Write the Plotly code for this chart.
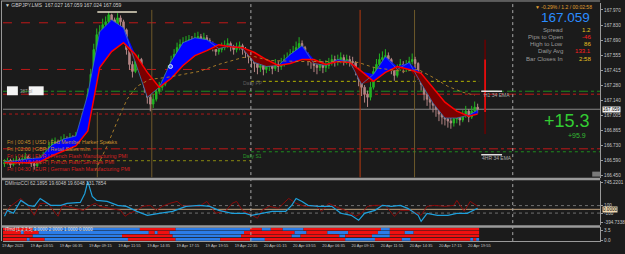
import numpy as np
import plotly.graph_objects as go

# ---------------- data ----------------
first_open = 166.560
close = [166.569, 166.587, 166.550, 166.578, 166.596, 166.569, 166.605, 166.623, 166.587, 166.560,
         166.541, 166.569, 166.605, 166.632, 166.651, 166.714, 166.742, 166.760, 166.732, 166.769,
         166.787, 166.769, 166.796, 166.778, 166.805, 166.823, 166.851, 166.969, 167.197, 167.379,
         167.606, 167.743, 167.770, 167.834, 167.861, 167.925, 167.879, 167.834, 167.897, 167.861,
         167.788, 167.606, 167.470, 167.406, 167.497, 167.515, 167.379, 167.260, 167.169, 167.106,
         167.151, 167.224, 167.260, 167.288, 167.333, 167.406, 167.497, 167.561, 167.624, 167.652,
         167.670, 167.679, 167.697, 167.679, 167.715, 167.724, 167.697, 167.715, 167.688, 167.661,
         167.633, 167.588, 167.606, 167.624, 167.642, 167.661, 167.633, 167.606, 167.624, 167.642,
         167.606, 167.579, 167.542, 167.515, 167.479, 167.442, 167.460, 167.424, 167.451, 167.460,
         167.433, 167.470, 167.451, 167.479, 167.515, 167.533, 167.561, 167.588, 167.624, 167.661,
         167.624, 167.561, 167.515, 167.488, 167.460, 167.442, 167.470, 167.442, 167.460, 167.488,
         167.515, 167.497, 167.515, 167.533, 167.506, 167.515, 167.497, 167.488, 167.424, 167.333,
         167.260, 167.197, 167.169, 167.260, 167.406, 167.470, 167.515, 167.533, 167.551, 167.515,
         167.424, 167.369, 167.424, 167.470, 167.442, 167.460, 167.497, 167.515, 167.479, 167.379,
         167.288, 167.197, 167.151, 167.124, 167.096, 167.060, 167.015, 166.987, 166.969, 166.951,
         166.933, 166.969, 166.987, 166.960, 167.005, 167.042, 166.987, 167.042, 167.078, 167.059]
high = [166.600, 166.615, 166.605, 166.610, 166.630, 166.612, 166.640, 166.660, 166.640, 166.600,
        166.580, 166.600, 166.640, 166.670, 166.700, 166.760, 166.790, 166.800, 166.780, 166.810,
        166.830, 166.810, 166.840, 166.820, 166.850, 166.870, 166.900, 167.010, 167.250, 167.430,
        167.660, 167.800, 167.830, 167.890, 167.910, 167.950, 167.935, 167.900, 167.940, 167.920,
        167.880, 167.800, 167.620, 167.500, 167.540, 167.560, 167.530, 167.400, 167.280, 167.190,
        167.200, 167.270, 167.310, 167.330, 167.380, 167.460, 167.550, 167.610, 167.670, 167.700,
        167.720, 167.730, 167.740, 167.730, 167.760, 167.770, 167.750, 167.760, 167.740, 167.710,
        167.680, 167.650, 167.650, 167.670, 167.690, 167.710, 167.680, 167.650, 167.670, 167.680,
        167.660, 167.630, 167.600, 167.570, 167.540, 167.500, 167.510, 167.480, 167.500, 167.510,
        167.490, 167.520, 167.500, 167.530, 167.560, 167.580, 167.610, 167.640, 167.680, 167.720,
        167.690, 167.640, 167.580, 167.540, 167.510, 167.490, 167.520, 167.500, 167.510, 167.530,
        167.560, 167.550, 167.560, 167.580, 167.560, 167.560, 167.550, 167.540, 167.500, 167.440,
        167.350, 167.280, 167.230, 167.310, 167.450, 167.520, 167.570, 167.590, 167.610, 167.580,
        167.530, 167.440, 167.470, 167.520, 167.500, 167.510, 167.540, 167.570, 167.540, 167.490,
        167.400, 167.310, 167.220, 167.190, 167.160, 167.130, 167.090, 167.050, 167.030, 167.010,
        166.990, 167.020, 167.040, 167.020, 167.050, 167.090, 167.060, 167.090, 167.130, 167.110]
low = [166.530, 166.552, 166.520, 166.535, 166.560, 166.545, 166.555, 166.590, 166.560, 166.530,
       166.505, 166.525, 166.555, 166.590, 166.615, 166.640, 166.700, 166.720, 166.700, 166.715,
       166.740, 166.730, 166.750, 166.740, 166.760, 166.780, 166.800, 166.830, 166.950, 167.180,
       167.350, 167.580, 167.700, 167.740, 167.790, 167.830, 167.830, 167.790, 167.820, 167.810,
       167.740, 167.560, 167.420, 167.350, 167.390, 167.460, 167.340, 167.210, 167.110, 167.040,
       167.070, 167.130, 167.200, 167.230, 167.270, 167.320, 167.390, 167.480, 167.550, 167.600,
       167.620, 167.630, 167.650, 167.640, 167.660, 167.690, 167.660, 167.670, 167.650, 167.620,
       167.590, 167.550, 167.560, 167.580, 167.600, 167.620, 167.590, 167.560, 167.580, 167.600,
       167.560, 167.530, 167.480, 167.440, 167.400, 167.380, 167.400, 167.370, 167.390, 167.410,
       167.380, 167.410, 167.400, 167.420, 167.450, 167.480, 167.510, 167.540, 167.570, 167.600,
       167.580, 167.510, 167.460, 167.430, 167.400, 167.380, 167.410, 167.390, 167.400, 167.430,
       167.460, 167.450, 167.460, 167.480, 167.460, 167.470, 167.450, 167.440, 167.370, 167.270,
       167.180, 167.120, 167.080, 167.140, 167.240, 167.390, 167.450, 167.480, 167.500, 167.460,
       167.380, 167.320, 167.350, 167.410, 167.390, 167.400, 167.440, 167.470, 167.430, 167.330,
       167.230, 167.140, 167.090, 167.060, 167.030, 166.990, 166.950, 166.920, 166.910, 166.890,
       166.880, 166.900, 166.930, 166.910, 166.940, 166.980, 166.940, 166.970, 167.010, 167.020]

ma_bars = [0, 4, 8, 12, 16, 20, 24, 28, 32, 36, 40, 44, 48, 52, 56, 60, 64, 68, 72, 76,
           80, 84, 88, 92, 96, 100, 104, 108, 112, 116, 120, 124, 128, 132, 136, 140, 144, 148, 152, 156, 159]
red_ema = [166.569, 166.569, 166.569, 166.578, 166.632, 166.678, 166.723, 166.860, 167.442, 167.588,
           167.670, 167.561, 167.397, 167.260, 167.342, 167.460, 167.551, 167.597, 167.651, 167.633,
           167.624, 167.579, 167.515, 167.460, 167.479, 167.515, 167.515, 167.470, 167.497, 167.488,
           167.406, 167.315, 167.397, 167.451, 167.424, 167.388, 167.260, 167.124, 167.042, 166.996, 167.015]
fast_ema = [166.578, 166.587, 166.605, 166.614, 166.732, 166.787, 166.814, 167.197, 167.770, 167.879,
            167.806, 167.497, 167.169, 167.260, 167.497, 167.670, 167.715, 167.697, 167.615, 167.642,
            167.615, 167.488, 167.451, 167.460, 167.561, 167.642, 167.479, 167.460, 167.515, 167.497,
            167.288, 167.379, 167.542, 167.424, 167.488, 167.297, 167.115, 166.978, 166.978, 167.005, 167.051]

slow_bars = [30.5, 34.5, 37.8, 41.2, 44.5, 48.8, 54.5, 65.5, 72, 80, 84, 89, 99, 112, 119, 124,
             129, 134, 139, 144, 149, 154, 158]
slow_ema = [166.496, 166.723, 166.942, 167.151, 167.269, 167.333, 167.351, 167.406, 167.470, 167.533,
            167.542, 167.506, 167.497, 167.497, 167.488, 167.442, 167.424, 167.406, 167.424, 167.351,
            167.269, 167.215, 167.187]

cci_bars = [0, 1, 3, 5.5, 8, 10, 12, 15.5, 19, 21, 25.5, 27, 28, 29.5, 31, 34.5, 38, 41, 44.5, 48,
            52, 56.5, 61, 65.5, 69, 72, 76.5, 81, 83, 86.5, 90, 94.5, 96.5, 98, 100, 102, 105.5, 110, 113, 116.5,
            119, 121, 124.5, 127, 130, 133, 135.5, 139, 140, 142, 145.5, 149, 152, 155.5, 159]
cci_main = [-185, -27, -106, 238, 106, 80, 291, 106, 106, 159, 185, 424, 745, 344, 238, 212, 106, 80, -53, -159,
            -106, -53, 80, 106, 80, -27, -106, -106, -159, -106, -53, -53, 106, 291, 212, 106, 80, 80, -106, -159,
            -292, -106, -27, 106, 80, 106, 27, -159, -318, -106, -159, -159, -106, -106, 27]
sig_bars = [0, 2, 5.5, 8, 10, 12, 14.5, 16.5, 18, 19.5, 21, 24.5, 26.5, 29, 30.5, 32, 35.5, 39, 40.5, 42,
            44.5, 46.5, 49, 51, 53, 55.5, 58, 60, 62, 65.5, 68, 71, 74.5, 76.5, 78, 80, 82, 85, 86.5, 89,
            92, 95.5, 98, 101, 104.5, 106.5, 109, 111, 114.5, 118, 120, 122, 124.5, 128, 131, 133, 136.5, 140, 142, 144.5,
            148, 151, 152, 154.5, 156.5, 159]
cci_sig = [-106, 80, 291, 80, -159, 159, 159, -27, -185, 106, 80, 27, -27, 106, 159, 80, 27, -27, -185, -106,
           -27, 80, 106, -27, 80, 159, 212, 80, 106, 80, 212, -106, -27, 159, 212, -27, -106, -238, -27, 80,
           27, 291, 159, 80, 106, -53, 159, 80, -27, -185, -106, 80, 106, 106, -185, -27, -27, -159, 80, 106,
           80, 106, 238, -53, 212, 80]

trend_len = [[10, 36, 12, 25, 4, 3, 4, 7, 26, 3, 30],
             [6, 1, 5, 37, 2, 1, 4, 25, 17, 4, 7, 7, 10, 4, 5, 3, 22],
             [10, 30, 17, 23, 17, 3, 13, 2, 9, 6, 30],
             [8, 1, 5, 28, 16, 15, 10, 5, 27, 10, 9, 3, 20, 1, 1, 1]]
trend_up = [[0, 1, 0, 1, 0, 1, 0, 1, 0, 1, 0],
            [0, 1, 0, 1, 0, 1, 0, 1, 0, 1, 0, 1, 0, 1, 0, 1, 0],
            [0, 1, 0, 1, 0, 1, 0, 1, 0, 1, 0],
            [0, 1, 0, 1, 0, 1, 0, 1, 0, 1, 0, 1, 0, 1, 0, 1]]

time_ticks = [2.8, 12.6, 22.4, 32.2, 42.0, 51.8, 61.6, 71.4, 81.2, 91.0, 100.8, 110.6, 120.4, 130.2, 140.0, 149.8, 159.6]
time_labels = ["19 Apr 2023", "19 Apr 03:55", "19 Apr 06:35", "19 Apr 09:15", "19 Apr 11:55", "19 Apr 14:35",
               "19 Apr 17:15", "19 Apr 19:55", "19 Apr 22:35", "20 Apr 01:15", "20 Apr 03:55", "20 Apr 06:35",
               "20 Apr 09:15", "20 Apr 11:55", "20 Apr 14:35", "20 Apr 17:15", "20 Apr 19:55"]
price_ticks = [167.970, 167.830, 167.690, 167.555, 167.415, 167.280, 167.140, 167.005, 166.865, 166.730, 166.590, 166.450]
last_price = 167.059

level_prices = [167.852, 167.424, 167.315, 167.224, 167.197, 167.059, 167.015, 166.696, 166.669, 166.587]
event_bars = [31.2, 49.5, 119.5, 137.8]
day_bars = [82.8, 170.8]
top_mark = 167.952
ema_tags = [167.224, 166.641]

events = ["Fri | 00:45 | USD | Fed Member Harker Speaks",
          "Fri | 02:00 | GBP | Retail Sales m/m",
          "Fri | 04:15 | EUR | French Flash Manufacturing PMI",
          "Fri | 04:15 | EUR | French Flash Services PMI",
          "Fri | 04:30 | EUR | German Flash Manufacturing PMI"]
info_labels = ["Spread", "Pips to Open", "High to Low", "Daily Avg", "Bar Closes In"]
info_values = ["1.2", "-46", "86", "133.1", "2:58"]

# ---------------- geometry helpers ----------------
W, H = 625, 254
FONT = "Liberation Sans, Arial, sans-serif"
BG = "#1b1b1b"
GRID = "#9a9a9a"


def px(x):
    return x / W


def py(y):
    return 1 - y / H


XR = [-0.5, 200.17]
XDOM = [px(2), px(604)]
L_EDGE, DAY, LAST, R_EDGE = -0.5, 82.8, 159.5, 200.17

bars = np.arange(len(close))
opens = [first_open] + close[:-1]

fig = go.Figure()

fig.add_trace(go.Candlestick(
    x=bars, open=opens, high=high, low=low, close=close,
    increasing=dict(line=dict(color="#22b422", width=1), fillcolor="#22b422"),
    decreasing=dict(line=dict(color="#b38585", width=1), fillcolor="#b38585"),
    hoverinfo="skip", xaxis="x", yaxis="y"))

red = np.array(red_ema)
fast = np.array(fast_ema)
upper = np.maximum(fast, red)
lower = np.minimum(fast, red)
for edge, colr in ((upper, "#0000ff"), (lower, "#7a0000")):
    fig.add_trace(go.Scatter(x=ma_bars, y=red, mode="lines", line=dict(width=0),
                             hoverinfo="skip", xaxis="x", yaxis="y"))
    fig.add_trace(go.Scatter(x=ma_bars, y=edge, mode="lines", line=dict(width=0),
                             fill="tonexty", fillcolor=colr, hoverinfo="skip", xaxis="x", yaxis="y"))

fig.add_trace(go.Scatter(x=ma_bars, y=fast_ema, mode="lines", line=dict(color="#3c78b4", width=0.8),
                         hoverinfo="skip", xaxis="x", yaxis="y"))
fig.add_trace(go.Scatter(x=ma_bars, y=red_ema, mode="lines", line=dict(color="#ff0000", width=1.5),
                         hoverinfo="skip", xaxis="x", yaxis="y"))
fig.add_trace(go.Scatter(x=slow_bars, y=slow_ema, mode="lines", line=dict(color="#a57a28", width=1, dash="dot"),
                         hoverinfo="skip", xaxis="x", yaxis="y"))

fig.add_trace(go.Scatter(x=sig_bars, y=cci_sig, mode="lines", line=dict(color="#8b0a0a", width=1),
                         hoverinfo="skip", xaxis="x2", yaxis="y2"))
fig.add_trace(go.Scatter(x=cci_bars, y=cci_main, mode="lines", line=dict(color="#1ea0dc", width=1.2),
                         hoverinfo="skip", xaxis="x2", yaxis="y2"))

rows = [3.5, 2.5, 1.5, 0.5]
for r, lens, ups in zip(rows, trend_len, trend_up):
    starts = np.concatenate([[0], np.cumsum(lens)[:-1]]) - 0.5
    fig.add_trace(go.Bar(x=lens, base=starts, y=[r] * len(lens), orientation="h", width=0.85,
                         marker=dict(color=["#2b7de9" if u else "#f01010" for u in ups], line=dict(width=0)),
                         hoverinfo="skip", xaxis="x3", yaxis="y3"))

fig.add_trace(go.Scatter(x=[55.8], y=[167.451], mode="markers",
                         marker=dict(size=4, color="#4060ff", line=dict(color="#ffffff", width=0.8)),
                         hoverinfo="skip", xaxis="x", yaxis="y"))

# ---------------- shapes ----------------
shapes = []
lvl_style = [("#c01818", "dash", L_EDGE, DAY), ("#c01818", "dash", L_EDGE, DAY),
             ("#b4b400", "dot", DAY, LAST), ("#1e8c1e", "dashdot", L_EDGE, R_EDGE),
             ("#c01818", "dashdot", L_EDGE, R_EDGE), ("#8a8a8a", "solid", L_EDGE, R_EDGE),
             ("#b01818", "dot", L_EDGE, DAY), ("#c01818", "dashdot", L_EDGE, R_EDGE),
             ("#1e8c1e", "dot", DAY, R_EDGE), ("#8a8a10", "dot", L_EDGE, DAY)]
for p, (c, d, x0, x1) in zip(level_prices, lvl_style):
    shapes.append(dict(type="line", xref="x", yref="y", x0=x0, x1=x1, y0=p, y1=p,
                       line=dict(color=c, width=1, dash=d), layer="below"))

ymin, ymax = 166.4321, 168.0337
v_tops = [167.033, 167.970, 167.970, 167.970]
v_cols = ["#6e5a2a", "#6e5a2a", "#b83a10", "#6e5a2a"]
for b, t, c in zip(event_bars, v_tops, v_cols):
    shapes.append(dict(type="line", xref="x", yref="y", x0=b, x1=b, y0=ymin, y1=t,
                       line=dict(color=c, width=1), layer="below"))
shapes.append(dict(type="line", xref="x", yref="y", x0=161.5, x1=161.5, y0=166.833, y1=167.697,
                   line=dict(color="#6a0000", width=1.5)))
shapes.append(dict(type="line", xref="x", yref="y", x0=161.5, x1=161.5, y0=167.033, y1=167.515,
                   line=dict(color="#ff1010", width=1.5)))
for b in day_bars:
    shapes.append(dict(type="line", xref="x", yref="paper", x0=b, x1=b, y0=py(243), y1=py(2),
                       line=dict(color="#a8a8a8", width=1, dash="dot")))
shapes.append(dict(type="line", xref="x", yref="y", x0=31.2, x1=44.5, y0=top_mark, y1=top_mark,
                   line=dict(color="#e8e0c8", width=1.5)))
for p in ema_tags:
    shapes.append(dict(type="line", xref="x", yref="y", x0=160.2, x1=167.2, y0=p, y1=p,
                       line=dict(color="#e0e0e0", width=1.5)))
for v, c, d in ((100, "#707070", "dot"), (-100, "#707070", "dot"), (0, "#c0a07c", "solid")):
    shapes.append(dict(type="line", xref="x2", yref="y2", x0=L_EDGE, x1=R_EDGE, y0=v, y1=v,
                       line=dict(color=c, width=1, dash=d), layer="below"))
for yy, wdt in ((180.5, 2.5), (228.2, 2.5), (1, 1)):
    shapes.append(dict(type="line", xref="paper", yref="paper", x0=0, x1=px(604), y0=py(yy), y1=py(yy),
                       line=dict(color=GRID, width=wdt)))
shapes.append(dict(type="line", xref="paper", yref="paper", x0=px(0.5), x1=px(0.5), y0=py(243), y1=py(1),
                   line=dict(color=GRID, width=1)))
shapes.append(dict(type="rect", xref="paper", yref="paper", x0=px(596), x1=px(604), y0=py(178), y1=py(173),
                   fillcolor="#7a7a7a", line=dict(width=0)))
for x0, x1 in ((6, 17), (28, 43)):
    shapes.append(dict(type="rect", xref="paper", yref="paper", x0=px(x0), x1=px(x1), y0=py(96), y1=py(87),
                       fillcolor="#f4f4f4", line=dict(width=0)))

# ---------------- annotations ----------------
ann = []


def txt(x, y, s, size, color, xanchor="left", **kw):
    d = dict(xref="paper", yref="paper", x=px(x), y=py(y), text=s, showarrow=False,
             font=dict(size=size, color=color, family=FONT), xanchor=xanchor, yanchor="middle", borderpad=0)
    d.update(kw)
    ann.append(d)


txt(3, 5, "▼ GBPJPY.LMS  167.027 167.059 167.024 167.059", 5, "#d0d0d0")
txt(597, 7, "▼ -0.29% / 1.2 / 00:02:58", 5, "#e0a030", "right")
txt(595, 18, "167.059", 13.5, "#2a8cff", "right")
for k, (lab, val) in enumerate(zip(info_labels, info_values)):
    yk = 29.8 + 7.2 * k
    txt(568, yk, lab, 6.1, "#9a9a9a", "right")
    txt(596, yk, val, 6.1, "#ff2020" if val in ("-46", "133.1") else "#e8c020", "right")
txt(595, 122, "+15.3", 18, "#33cc33", "right")
txt(591, 137, "+95.9", 7, "#33bb33", "right")
txt(486, 96, "H1 34 EMA", 5, "#a8a8a8")
txt(484, 159, "4HR 34 EMA", 5, "#a8a8a8")
txt(243, 84, "Daily PP", 5, "#5c5c5c")
txt(243, 157, "Daily S1", 5, "#2a9a2a")
txt(18, 92, "387 pl", 4.5, "#9a9a9a")
ev_cols = ["#c8902c", "#c8902c", "#d42020", "#d42020", "#d42020"]
for k, (e, c) in enumerate(zip(events, ev_cols)):
    txt(5, 143 + 6.9 * k, e, 5.3, c)
txt(3, 185, "DMIntoCCI 62.1895 19.6048 19.6048 131.7854", 4.8, "#c8c8c8")
txt(3, 231.5, "iTrnd [1,2,3,5] 3.0000 2.0000 1.0000 0.0000", 4.5, "#e8e8e8")
ann.append(dict(xref="paper", yref="y", x=px(605.5), y=last_price, text="167.059", showarrow=False,
                font=dict(size=4.6, color="#000000", family=FONT), bgcolor="#f0f0f0",
                xanchor="left", yanchor="middle", borderpad=0))
ann.append(dict(xref="paper", yref="y2", x=px(605.5), y=0, text="0.0000", showarrow=False,
                font=dict(size=4.6, color="#000000", family=FONT), bgcolor="#f0d8b0",
                xanchor="left", yanchor="middle", borderpad=0))

tick_font = dict(size=4.6, color="#c8c8c8", family=FONT)
xcommon = dict(range=XR, domain=XDOM, showgrid=False, zeroline=False, showticklabels=False, fixedrange=True)
ycommon = dict(side="right", showgrid=False, zeroline=False, showline=True, linecolor=GRID, linewidth=1,
               ticks="outside", ticklen=2, tickcolor=GRID, tickfont=tick_font, fixedrange=True)

fig.update_layout(
    width=W, height=H, margin=dict(l=0, r=0, t=0, b=0),
    paper_bgcolor=BG, plot_bgcolor=BG, showlegend=False, barmode="overlay",
    hovermode=False, shapes=shapes, annotations=ann,
    xaxis=dict(anchor="y", rangeslider=dict(visible=False), **xcommon),
    xaxis2=dict(anchor="y2", **xcommon),
    xaxis3=dict(anchor="y3", range=XR, domain=XDOM, showgrid=False, zeroline=False, fixedrange=True,
                tickvals=time_ticks, ticktext=time_labels, tickfont=dict(size=4, color="#c8c8c8", family=FONT),
                showline=True, linecolor=GRID, ticks=""),
    yaxis=dict(anchor="x", domain=[py(179), py(3)], range=[ymin, ymax], tickvals=price_ticks,
               ticktext=[f"{p:.3f}" for p in price_ticks], **ycommon),
    yaxis2=dict(anchor="x2", domain=[py(227), py(182)], range=[-424, 768.5],
                tickvals=[715.5, 100, -100, -344.5], ticktext=["745.2201", "100", "-100", "-394.7338"], **ycommon),
    yaxis3=dict(anchor="x3", domain=[py(243), py(229)], range=[0, 4],
                tickvals=[3.14, 0.29], ticktext=["3.5", "0.0"], **ycommon),
)

fig.write_html("out.html", config={"displayModeBar": False})
